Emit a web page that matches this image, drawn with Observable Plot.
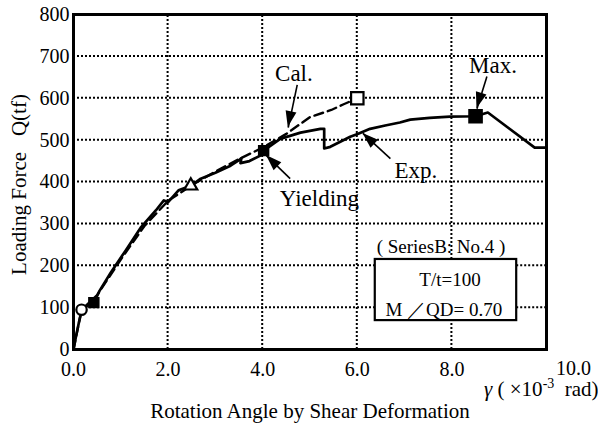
<!DOCTYPE html>
<html>
<head>
<meta charset="utf-8">
<script src="https://cdn.jsdelivr.net/npm/d3@7"></script>
<script src="https://cdn.jsdelivr.net/npm/@observablehq/plot@0.6"></script>
<style>
  body { margin: 0; background: #fff; }
  svg { display: block; }
</style>
</head>
<body>
<div id="chart"></div>
<script>
// Shear deformation angle γ (×10^-3 rad) vs loading force Q (tf)
const expX = [0, 0.05, 0.11, 0.17, 0.3, 0.43, 0.55, 0.79, 1.1, 1.42, 1.74, 1.91, 2.0, 2.22, 2.48, 2.69, 3.0, 3.32, 3.5, 3.55, 3.53, 3.72, 3.95, 4.02, 4.37, 4.8, 5.22, 5.3, 5.3, 5.43, 5.64, 5.85, 6.02, 6.27, 6.59, 6.9, 7.12, 7.53, 7.96, 8.5, 8.76, 9.75, 10.0];
const expY = [0, 30, 62, 92, 105, 112, 140, 184, 236, 291, 332, 356, 352, 380, 391, 408, 422, 439, 452, 457, 445, 450, 463, 475, 503, 518, 527, 527, 480, 484, 496, 508, 515, 527, 535, 542, 549, 553, 556, 557, 566, 482, 482];

const calX = [0, 0.17, 0.5, 1.0, 1.5, 2.0, 2.48, 3.0, 3.5, 4.0, 4.5, 5.0, 5.45, 5.7, 6.0];
const calY = [0, 95, 130, 215, 295, 355, 391, 425, 455, 482, 515, 555, 572, 585, 600];

// Characteristic points
const openPointX = [0.17, 2.48, 6.0];
const openPointY = [95, 391, 600];
const openPointSymbol = ["circle", "triangle", "square"];
const openPointR = [5.2, 4.8, 7.0];
const filledPointX = [0.43, 4.02, 8.5];
const filledPointY = [112, 475, 557];
const filledPointR = [5.6, 5.6, 7.4];

// Axis ticks
const xTicks = [0, 2, 4, 6, 8, 10];
const xTickLabels = ["0.0", "2.0", "4.0", "6.0", "8.0", "10.0"];
const yTicks = [0, 100, 200, 300, 400, 500, 600, 700, 800];
const xGrid = [2, 4, 6, 8];
const yGrid = [100, 200, 300, 400, 500, 600, 700];

// Callouts
const noteText = ["Cal.", "Max.", "Yielding", "Exp."];
const noteX = [4.66, 8.87, 5.2, 7.24];
const noteY = [659, 678, 360, 428];
const arrowX1 = [4.73, 8.74, 4.58, 6.70];
const arrowY1 = [632, 652, 408, 456];
const arrowX2 = [4.54, 8.53, 4.08, 6.12];
const arrowY2 = [530, 575, 463, 516];

// Specimen box
const specimenTitle = "( SeriesB: No.4 )";
const specimenLines = ["T/t=100", "M ／QD= 0.70"];
const specimenTitleX = 7.77, specimenTitleY = 246;
const specimenLineX = [7.96, 7.83];
const specimenLineY = [167, 95];
const boxX = [6.38, 9.37];
const boxY = [69, 215];

const font = "'Liberation Serif', 'Times New Roman', serif";
const tickSize = 20;

const idx = (a) => a.map((_, i) => i);

function arrowHeads(index, scales) {
  const g = d3.create("svg:g").attr("fill", "black");
  for (let i = 0; i < arrowX1.length; i++) {
    const ax = scales.x(arrowX1[i]), ay = scales.y(arrowY1[i]);
    const bx = scales.x(arrowX2[i]), by = scales.y(arrowY2[i]);
    const a = Math.atan2(by - ay, bx - ax);
    const L = 16, W = 5.5;
    const px = bx - L * Math.cos(a), py = by - L * Math.sin(a);
    const pts = [[bx, by], [px - W * Math.sin(a), py + W * Math.cos(a)], [px + W * Math.sin(a), py - W * Math.cos(a)]];
    g.append("polygon").attr("points", pts.map(p => p.join(",")).join(" "));
  }
  return g.node();
}

const chart = Plot.plot({
  width: 598,
  height: 428,
  marginLeft: 73,
  marginRight: 52,
  marginTop: 14,
  marginBottom: 79,
  x: {domain: [0, 10], axis: null},
  y: {domain: [0, 800], axis: null},
  r: {type: "identity"},
  style: {fontFamily: font, fontSize: tickSize + "px", color: "black", background: "white"},
  marks: [
    Plot.rect([0], {x1: () => boxX[0], x2: () => boxX[1], y1: () => boxY[0], y2: () => boxY[1], fill: "white", stroke: "black", strokeWidth: 2.2}),
    Plot.line(idx(calX), {x: i => calX[i], y: i => calY[i], stroke: "black", strokeWidth: 2.4, strokeDasharray: "9,5"}),
    Plot.line(idx(expX), {x: i => expX[i], y: i => expY[i], stroke: "black", strokeWidth: 2.7}),
    Plot.dot(idx(openPointX), {x: i => openPointX[i], y: i => openPointY[i], symbol: i => openPointSymbol[i], r: i => openPointR[i], fill: "white", stroke: "black", strokeWidth: 2.2}),
    Plot.dot(idx(filledPointX), {x: i => filledPointX[i], y: i => filledPointY[i], symbol: "square", r: i => filledPointR[i], fill: "black", stroke: "black"}),
    Plot.link(idx(arrowX1), {x1: i => arrowX1[i], y1: i => arrowY1[i], x2: i => arrowX2[i], y2: i => arrowY2[i], stroke: "black", strokeWidth: 1.6}),
    arrowHeads,
    Plot.text(idx(noteText), {x: i => noteX[i], y: i => noteY[i], text: i => noteText[i], fontSize: 23, textAnchor: "middle", lineAnchor: "middle"}),
    Plot.text([specimenTitle], {x: () => specimenTitleX, y: () => specimenTitleY, text: d => d, fontSize: 19, textAnchor: "middle", lineAnchor: "middle"}),
    Plot.text(idx(specimenLines), {x: i => specimenLineX[i], y: i => specimenLineY[i], text: i => specimenLines[i], fontSize: 19, textAnchor: "middle", lineAnchor: "middle"}),
    Plot.frame({stroke: "black", strokeWidth: 3}),
    // tick labels
    Plot.text(yTicks, {x: 0, y: d => d, text: d => String(d), dx: -4, textAnchor: "end", lineAnchor: "middle", fontSize: tickSize}),
    Plot.text(idx(xTicks).filter(i => xTicks[i] < 10), {x: i => xTicks[i], y: 0, text: i => xTickLabels[i], dy: 20, textAnchor: "middle", lineAnchor: "middle", fontSize: tickSize}),
    Plot.text(idx(xTicks).filter(i => xTicks[i] >= 10), {x: i => xTicks[i], y: 0, text: i => xTickLabels[i], dx: 27, dy: 19, textAnchor: "middle", lineAnchor: "middle", fontSize: tickSize})
  ]
});

const svg = d3.select(chart);
const sx = chart.scale("x"), sy = chart.scale("y");

// dotted grid; the white specimen box interrupts the lines it crosses
const grid = svg.append("g")
  .attr("stroke", "black")
  .attr("stroke-width", 2)
  .attr("stroke-dasharray", "2,2")
  .attr("fill", "none");
function gridSegment(x1, y1, x2, y2) {
  grid.append("line")
    .attr("x1", sx.apply(x1)).attr("y1", sy.apply(y1))
    .attr("x2", sx.apply(x2)).attr("y2", sy.apply(y2))
    .style("stroke", "black").style("stroke-dasharray", "2,2");
}
for (const v of xGrid) {
  if (v > boxX[0] && v < boxX[1]) {
    gridSegment(v, 0, v, boxY[0]);
    gridSegment(v, boxY[1], v, 800);
  } else gridSegment(v, 0, v, 800);
}
for (const v of yGrid) {
  if (v > boxY[0] && v < boxY[1]) {
    gridSegment(0, v, boxX[0], v);
    gridSegment(boxX[1], v, 10, v);
  } else gridSegment(0, v, 10, v);
}
// keep the curves and point markers above the grid
chart.querySelectorAll('g[aria-label="line"], g[aria-label="dot"]').forEach(g => chart.appendChild(g));

// y-axis title
svg.append("text")
  .attr("transform", `translate(19,${(sy.apply(0) + sy.apply(800)) / 2 + 3}) rotate(-90)`)
  .attr("text-anchor", "middle")
  .attr("dominant-baseline", "central")
  .attr("font-family", font)
  .attr("font-size", 21)
  .style("white-space", "pre")
  .text("Loading Force   Q(tf)");

// x-axis title
svg.append("text")
  .attr("x", 310)
  .attr("y", sy.apply(0) + 62)
  .attr("text-anchor", "middle")
  .attr("dominant-baseline", "central")
  .attr("font-family", font)
  .attr("font-size", 21)
  .text("Rotation Angle by Shear Deformation");

// unit label at the right end of the x axis
const unit = svg.append("text")
  .attr("x", sx.apply(10) - 62)
  .attr("y", sy.apply(0) + 47)
  .attr("text-anchor", "start")
  .attr("font-family", font)
  .attr("font-size", 21)
  .style("white-space", "pre");
unit.append("tspan").attr("font-style", "italic").text("γ");
unit.append("tspan").text(" ( ×10");
unit.append("tspan").attr("font-size", 14).attr("dy", -8).text("-3");
unit.append("tspan").attr("dy", 8).text("  rad)");

document.getElementById("chart").appendChild(chart);
</script>
</body>
</html>
